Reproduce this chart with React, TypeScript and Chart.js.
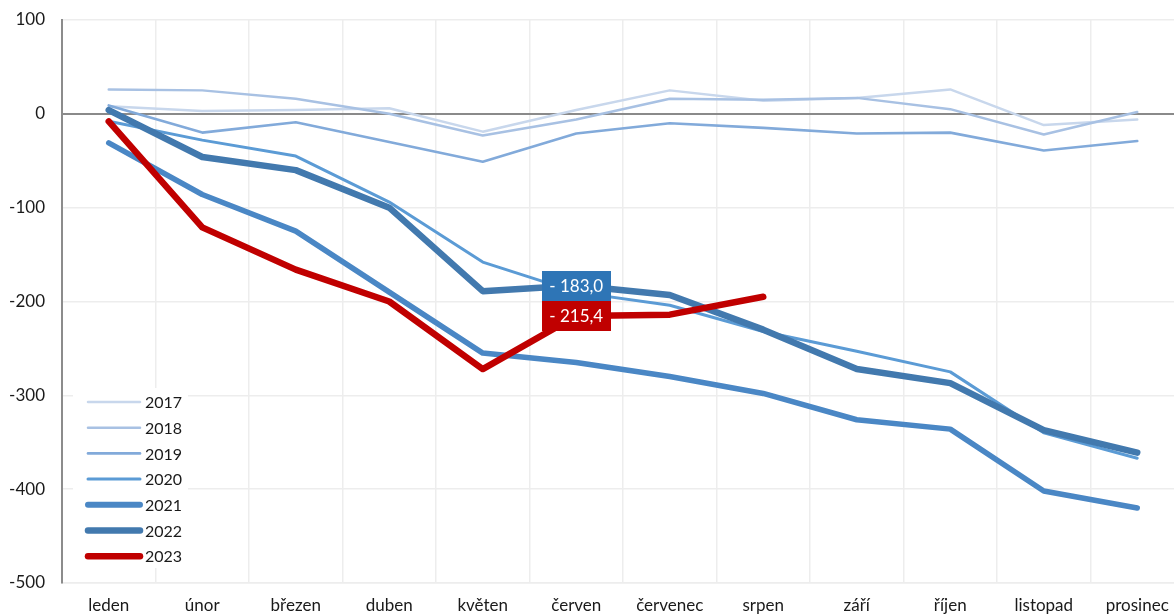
import React, { useEffect, useRef } from 'react';
import { Chart, registerables } from 'chart.js';

Chart.register(...registerables);

const months = ['leden', 'únor', 'březen', 'duben', 'květen', 'červen', 'červenec', 'srpen', 'září', 'říjen', 'listopad', 'prosinec'];
const years = ['2017', '2018', '2019', '2020', '2021', '2022', '2023'];

const v2017 = [8, 3, 4, 6, -19, 4, 25, 14, 17, 26, -12, -6];
const v2018 = [26, 25, 16, 0, -23, -6, 16, 15, 17, 5, -22, 2];
const v2019 = [9, -20, -9, -30, -51, -21, -10, -15, -21, -20, -39, -29];
const v2020 = [-8, -28, -45, -94, -158, -190, -204, -232, -253, -275, -340, -367];
const v2021 = [-31, -86, -125, -190, -255, -265, -280, -298, -326, -336, -402, -420];
const v2022 = [4, -46, -60, -100, -189, -183, -193, -230, -272, -287, -337, -361];
const v2023 = [-8, -121, -166, -200, -272, -215.4, -214, -195];

const seriesValues = [v2017, v2018, v2019, v2020, v2021, v2022, v2023];

const yMin = -500;
const yMax = 100;
const yStep = 100;

const lineColors = ['#C8D7EC', '#A8C1E3', '#82AADA', '#5B9BD5', '#4A87C5', '#4279AE', '#C00000'];
const lineWidths = [2.5, 2.5, 2.6, 3, 5.5, 6.5, 6.5];
const legendWidths = [2.5, 2.5, 2.6, 3, 6, 6.5, 6.5];

// index of the month whose values get callout boxes, and which series
const calloutMonth = 5;
const calloutSeries = [5, 6];
const calloutColors: Record<number, string> = { 5: '#2E75B6', 6: '#C00000' };

const FONT = 'Lato, "Noto Sans", sans-serif';
const TEXT = '#1a1a1a';

function fmt(v: number) {
  const s = Math.abs(v).toFixed(1).replace('.', ',');
  return v < 0 ? '- ' + s : s;
}

const calloutPlugin = {
  id: 'callouts',
  afterDatasetsDraw(chart: any) {
    const ctx = chart.ctx;
    ctx.save();
    calloutSeries.forEach((si) => {
      const meta = chart.getDatasetMeta(si);
      const pt = meta.data[calloutMonth];
      if (!pt) return;
      const w = 69;
      const h = 30;
      ctx.fillStyle = calloutColors[si];
      ctx.fillRect(Math.round(pt.x - w / 2), Math.round(pt.y - h / 2), w, h);
      ctx.fillStyle = '#ffffff';
      ctx.font = '17px ' + FONT;
      ctx.textAlign = 'center';
      ctx.textBaseline = 'middle';
      ctx.fillText(fmt(seriesValues[si][calloutMonth]), pt.x, pt.y + 1);
    });
    ctx.restore();
  },
};

const legendPlugin = {
  id: 'insideLegend',
  afterDraw(chart: any) {
    const ctx = chart.ctx;
    const a = chart.chartArea;
    const x0 = a.left + 11;
    const y0 = 388;
    ctx.save();
    ctx.fillStyle = '#ffffff';
    ctx.fillRect(x0, y0, 115, 180);
    years.forEach((yr, i) => {
      const cy = y0 + 14 + i * 25.7;
      ctx.beginPath();
      ctx.strokeStyle = lineColors[i];
      ctx.lineWidth = legendWidths[i];
      ctx.lineCap = 'round';
      ctx.moveTo(x0 + 15, cy);
      ctx.lineTo(x0 + 67, cy);
      ctx.stroke();
      ctx.fillStyle = TEXT;
      ctx.font = '16px ' + FONT;
      ctx.textAlign = 'left';
      ctx.textBaseline = 'middle';
      ctx.fillText(yr, x0 + 72, cy + 1);
    });
    ctx.restore();
  },
};

export default function App() {
  const ref = useRef<HTMLCanvasElement | null>(null);

  useEffect(() => {
    if (!ref.current) return;
    const datasets = years.map((yr, i) => ({
      label: yr,
      data: seriesValues[i],
      borderColor: lineColors[i],
      backgroundColor: lineColors[i],
      borderWidth: lineWidths[i],
      pointRadius: 0,
      pointHoverRadius: 0,
      tension: 0,
      fill: false,
      borderCapStyle: 'round' as const,
      borderJoinStyle: 'round' as const,
      order: years.length - i,
    }));
    const chart = new Chart(ref.current, {
      type: 'line',
      data: { labels: months, datasets },
      options: {
        animation: false,
        responsive: false,
        events: [],
        layout: { padding: { top: 20, right: 0, bottom: 0, left: 0 } },
        plugins: {
          legend: { display: false },
          tooltip: { enabled: false },
        },
        scales: {
          x: {
            type: 'category',
            offset: true,
            grid: {
              offset: true,
              color: '#EDEDED',
              lineWidth: 1.5,
              drawTicks: true,
              tickLength: 12,
              tickColor: 'rgba(0,0,0,0)',
            },
            border: { display: true, color: '#EDEDED', width: 1.5 },
            ticks: { color: TEXT, font: { family: FONT, size: 17 }, padding: 0, maxRotation: 0, autoSkip: false },
            afterFit: (s: any) => { s.height = 31; },
          },
          y: {
            min: yMin,
            max: yMax,
            ticks: { stepSize: yStep, color: TEXT, font: { family: FONT, size: 17 }, padding: 0 },
            grid: {
              drawTicks: true,
              tickLength: 17,
              tickColor: 'rgba(0,0,0,0)',
              color: (c: any) => (c.tick && c.tick.value === 0 ? '#8A8A8A' : '#EDEDED'),
              lineWidth: (c: any) => (c.tick && c.tick.value === 0 ? 2 : 1.5),
            },
            border: { display: true, color: '#8C8C8C', width: 2 },
            afterFit: (s: any) => { s.width = 62; },
          },
        },
      },
      plugins: [calloutPlugin, legendPlugin],
    });
    return () => chart.destroy();
  }, []);

  return (
    <div style={{ position: 'fixed', left: 0, top: 0, width: 1174, height: 614, overflow: 'hidden', background: '#fff' }}>
      <canvas ref={ref} width={1184} height={614} style={{ width: 1184, height: 614, display: 'block' }} />
    </div>
  );
}
